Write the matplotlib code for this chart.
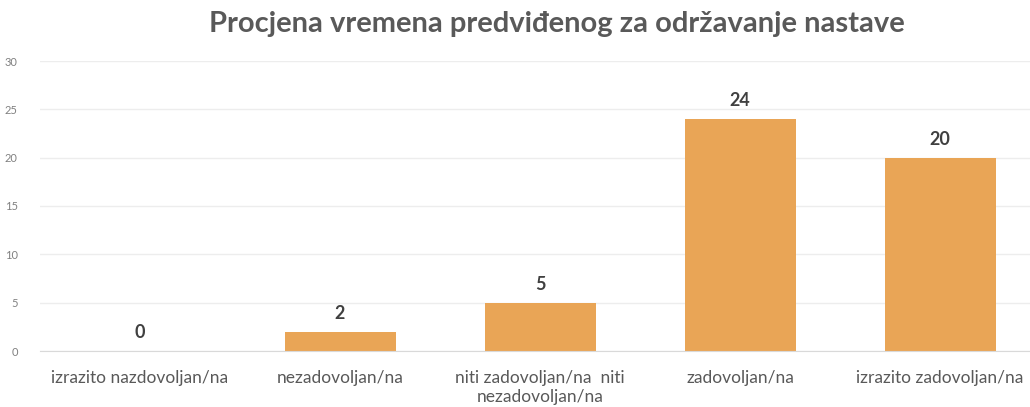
import matplotlib.pyplot as plt

# podaci
kategorije = ['izrazito nazdovoljan/na', 'nezadovoljan/na',
              'niti zadovoljan/na  niti\nnezadovoljan/na', 'zadovoljan/na',
              'izrazito zadovoljan/na']
vrijednosti = [0, 2, 5, 24, 20]
y_ticks = [0, 5, 10, 15, 20, 25, 30]

plt.rcParams['font.family'] = ['Lato', 'DejaVu Sans']

fig = plt.figure(figsize=(10.30, 4.07), dpi=100)
ax = fig.add_axes([40 / 1030, 56 / 407, 1000 / 1030, 290 / 407])

x = range(len(kategorije))
bars = ax.bar(x, vrijednosti, width=0.555, color='#E9A556', zorder=3)

for b, v in zip(bars, vrijednosti):
    ax.text(b.get_x() + b.get_width() / 2, v + 1.0, str(v),
            ha='center', va='bottom', fontsize=13, fontweight='bold',
            color='#404040')

ax.set_xlim(-0.5, 4.5)
ax.set_ylim(0, 30)
ax.set_yticks(y_ticks)
ax.set_xticks(list(x))
ax.set_xticklabels(kategorije, fontsize=12.5, color='#595959', linespacing=1.2)
ax.tick_params(axis='y', labelsize=8, colors='#808080', length=0, pad=16)
ax.tick_params(axis='x', length=0, pad=14)
for lbl in ax.get_yticklabels():
    lbl.set_color('#808080')

ax.grid(axis='y', color='#EDEDED', linewidth=1, zorder=0)
for s in ['top', 'right', 'left']:
    ax.spines[s].set_visible(False)
ax.spines['bottom'].set_color('#D9D9D9')
ax.spines['bottom'].set_zorder(4)

fig.text(0.541, 0.94, 'Procjena vremena predviđenog za održavanje nastave',
         ha='center', va='center', fontsize=21, fontweight='bold',
         color='#595959')

plt.savefig('out.png', dpi=100)
